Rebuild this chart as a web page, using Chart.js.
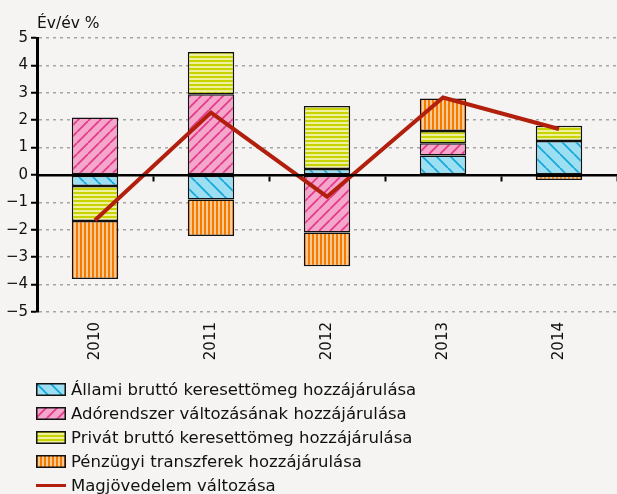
<!DOCTYPE html>
<html>
<head>
<meta charset="utf-8">
<script src="https://cdn.jsdelivr.net/npm/chart.js@4"></script>
<style>
  body { margin: 0; background: #f5f4f2; font-family: "DejaVu Sans", sans-serif; }
  #wrap { position: relative; width: 617px; height: 494px; }
  #box { position: absolute; left: 0; top: 0; width: 617px; height: 370px; }
  #legend { position: absolute; left: 36px; top: 377px; font-size: 16.5px; color: #111; }
  .row { display: flex; align-items: center; height: 24px; white-space: nowrap; }
  .row canvas { margin-right: 5px; }
</style>
</head>
<body>
<div id="wrap">
  <div id="box"><canvas id="chart"></canvas></div>
  <div id="legend"></div>
</div>
<script>
// adatok
const years = ['2010', '2011', '2012', '2013', '2014'];
const allami = [-0.40, -0.89, 0.22, 0.71, 1.24];
const adorendszer = [2.10, 2.95, -2.10, 0.45, 0];
const privat = [-1.28, 1.54, 2.30, 0.45, 0.56];
const penzugyi = [-2.12, -1.34, -1.23, 1.18, -0.18];
const magjovedelem = [-1.65, 2.28, -0.79, 2.83, 1.68];

const seriesNames = [
  'Állami bruttó keresettömeg hozzájárulása',
  'Adórendszer változásának hozzájárulása',
  'Privát bruttó keresettömeg hozzájárulása',
  'Pénzügyi transzferek hozzájárulása',
  'Magjövedelem változása'
];

// minták
function drawTile(kind) {
  const c = document.createElement('canvas');
  const g = c.getContext('2d');
  if (kind === 'blue' || kind === 'pink') {
    const s = kind === 'blue' ? 14 : 11;
    c.width = s; c.height = s;
    g.fillStyle = kind === 'blue' ? '#9ddff2' : '#f4a7cb';
    g.fillRect(0, 0, s, s);
    g.strokeStyle = kind === 'blue' ? '#16a8d8' : '#e53a8b';
    g.lineWidth = 1.8;
    g.beginPath();
    for (const o of [-s, 0, s]) {
      if (kind === 'blue') { g.moveTo(o, 0); g.lineTo(o + s, s); }
      else { g.moveTo(o, s); g.lineTo(o + s, 0); }
    }
    g.stroke();
  } else if (kind === 'green') {
    c.width = 4; c.height = 4;
    g.fillStyle = '#eef09e'; g.fillRect(0, 0, 4, 4);
    g.fillStyle = '#c8d400'; g.fillRect(0, 0, 4, 2);
  } else {
    c.width = 4; c.height = 4;
    g.fillStyle = '#fcc992'; g.fillRect(0, 0, 4, 4);
    g.fillStyle = '#f47a00'; g.fillRect(0, 0, 2, 4);
  }
  return c;
}

const ctx = document.getElementById('chart').getContext('2d');
const kinds = ['blue', 'pink', 'green', 'orange'];
const patterns = kinds.map(k => ctx.createPattern(drawTile(k), 'repeat'));

Chart.defaults.font.family = '"DejaVu Sans", sans-serif';
Chart.defaults.font.size = 15;
Chart.defaults.color = '#111';

const axisTitle = {
  id: 'axisTitle',
  afterDraw(chart) {
    const c = chart.ctx;
    c.save();
    c.font = '15.5px "DejaVu Sans"';
    c.fillStyle = '#111';
    c.textBaseline = 'alphabetic';
    c.fillText('Év/év %', chart.chartArea.left, 28);
    c.restore();
  }
};

const barData = [allami, adorendszer, privat, penzugyi];

const chart = new Chart(ctx, {
  type: 'bar',
  data: {
    labels: years,
    datasets: [
      ...barData.map((d, i) => ({
        label: seriesNames[i],
        data: d,
        backgroundColor: patterns[i],
        borderColor: '#111',
        borderWidth: 1.5,
        borderSkipped: false,
        stack: 'bars',
        order: 1
      })),
      {
        type: 'line',
        label: seriesNames[4],
        data: magjovedelem,
        borderColor: '#b21f0c',
        borderWidth: 4,
        pointRadius: 0,
        tension: 0,
        fill: false,
        stack: 'line',
        order: 0
      }
    ]
  },
  options: {
    responsive: true,
    maintainAspectRatio: false,
    animation: false,
    layout: { padding: { top: 38, left: 0, right: 0, bottom: 0 } },
    plugins: { legend: { display: false }, tooltip: { enabled: false } },
    datasets: { bar: { categoryPercentage: 1, barPercentage: 0.4 } },
    scales: {
      x: {
        stacked: true,
        offset: true,
        grid: { display: false, drawTicks: false },
        border: { display: false },
        ticks: { minRotation: 90, maxRotation: 90, padding: 10, font: { size: 15 } },
        afterFit(scale) { scale.height = 58; }
      },
      x2: {
        type: 'category',
        labels: years,
        position: { y: 0 },
        offset: true,
        grid: { display: true, drawOnChartArea: false, drawTicks: true, tickLength: 5, offset: true, tickColor: '#000', tickWidth: 2 },
        border: { display: true, color: '#000', width: 2.5, z: 1 },
        ticks: { display: false }
      },
      y: {
        stacked: true,
        min: -5,
        max: 5,
        ticks: {
          stepSize: 1,
          padding: 3,
          font: { size: 15 },
          callback: v => String(v).replace('-', '\u2212')
        },
        grid: { color: '#a5a5a5', lineWidth: 1.5, tickColor: '#000', tickWidth: 2, tickLength: 6 },
        border: { display: true, color: '#000', width: 3, dash: [3, 4] },
        afterFit(scale) { scale.width = 37; }
      }
    }
  },
  plugins: [axisTitle]
});

// jelmagyarázat
const legend = document.getElementById('legend');
seriesNames.forEach((name, i) => {
  const row = document.createElement('div');
  row.className = 'row';
  const sw = document.createElement('canvas');
  sw.width = 30; sw.height = 13;
  const g = sw.getContext('2d');
  if (i < 4) {
    g.fillStyle = g.createPattern(drawTile(kinds[i]), 'repeat');
    g.fillRect(0, 0, 30, 13);
    g.strokeStyle = '#111';
    g.lineWidth = 1.5;
    g.strokeRect(0.75, 0.75, 28.5, 11.5);
  } else {
    g.fillStyle = '#b21f0c';
    g.fillRect(0, 5, 30, 3);
  }
  row.appendChild(sw);
  const t = document.createElement('span');
  t.textContent = name;
  row.appendChild(t);
  legend.appendChild(row);
});
</script>
</body>
</html>
